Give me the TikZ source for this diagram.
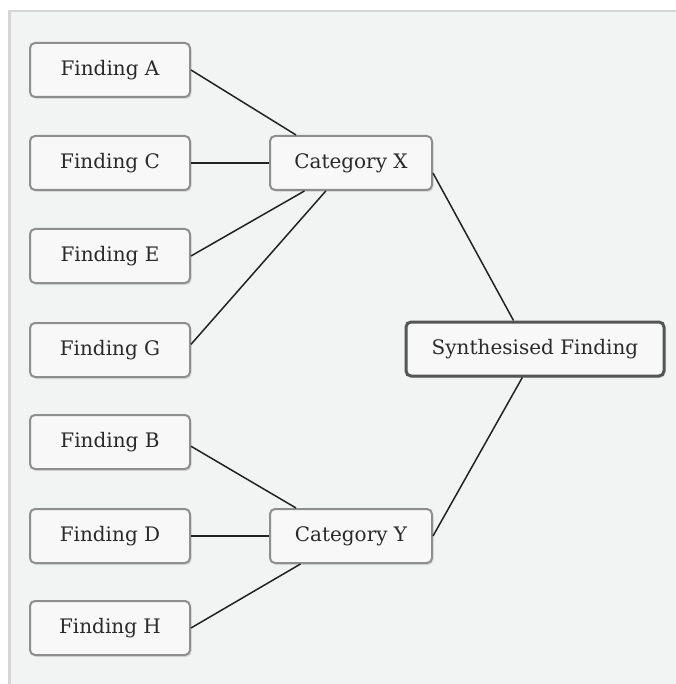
\documentclass[tikz,border=0pt]{standalone}
\usepackage{fontspec}
\setmainfont{DejaVu Serif}
\usetikzlibrary{shadows}
\definecolor{panelfill}{HTML}{F2F3F3}
\definecolor{panelline}{HTML}{D6D6D6}
\definecolor{boxfill}{HTML}{F8F8F8}
\definecolor{boxline}{HTML}{8E8E8E}
\definecolor{synthline}{HTML}{555555}
\definecolor{edgecol}{HTML}{222222}
\definecolor{textcol}{HTML}{2A2A2A}
\tikzset{
  basebox/.style={rectangle, rounded corners=5pt, fill=boxfill, inner sep=0pt,
    minimum height=54pt, font=\fontsize{20}{24}\selectfont, text=textcol,
    drop shadow={shadow xshift=1.5pt, shadow yshift=-2pt, fill=black, opacity=0.10}},
  findbox/.style={basebox, draw=boxline, line width=2pt, minimum width=160pt},
  catbox/.style={basebox, draw=boxline, line width=2pt, minimum width=162pt},
  synthbox/.style={basebox, draw=synthline, line width=3pt, minimum width=258pt},
  link/.style={draw=edgecol, line width=1.5pt}
}
\begin{document}
\begin{tikzpicture}[x=1pt,y=-1pt]
\useasboundingbox (0,0) rectangle (675,684);
\fill[white] (0,0) rectangle (675,684);
\fill[panelfill] (9,11) rectangle (676,685);
\draw[panelline, line width=2.5pt] (9.25,685) -- (9.25,11.25) -- (676,11.25);

\node[findbox] (fa) at (110,70) {Finding A};
\node[findbox] (fc) at (110,163) {Finding C};
\node[findbox] (fe) at (110,256) {Finding E};
\node[findbox] (fg) at (110,350) {Finding G};
\node[findbox] (fb) at (110,442) {Finding B};
\node[findbox] (fd) at (110,536) {Finding D};
\node[findbox] (fh) at (110,628) {Finding H};
\node[catbox] (cx) at (351,163) {Category X};
\node[catbox] (cy) at (351,536) {Category Y};
\node[synthbox] (sf) at (535,349) {Synthesised Finding};

\path[link] (fa.east) -- (cx.153);
\path[link] (fc.east) -- (cx.west);
\path[link] (fe.east) -- (cx.211);
\path[link] (fg.4) -- (cx.228);
\path[link] (fb.-3) -- (cy.153);
\path[link] (fd.east) -- (cy.west);
\path[link] (fh.east) -- (cy.209);
\path[link] (cx.-7) -- (sf.127);
\path[link] (cy.east) -- (sf.246);
\end{tikzpicture}
\end{document}
